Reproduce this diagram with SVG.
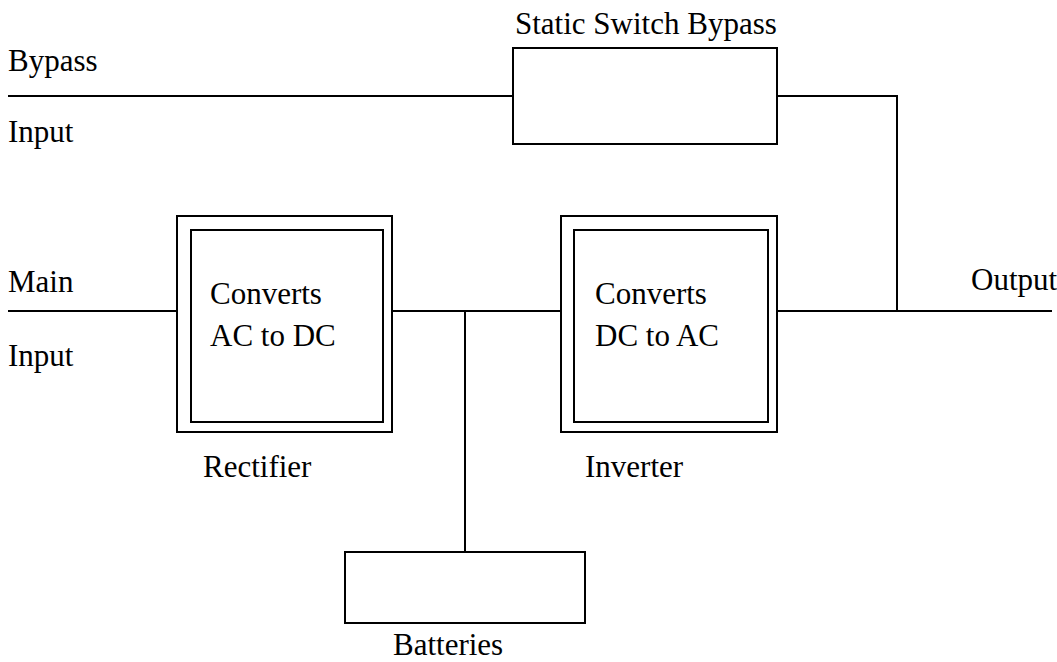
<svg xmlns="http://www.w3.org/2000/svg" width="1057" height="662" viewBox="0 0 1057 662">
<style>
  .box { fill: #fff; stroke: #000; stroke-width: 2; }
  .wire { fill: none; stroke: #000; stroke-width: 2; }
  text { font-family: "Liberation Serif", "Times New Roman", serif; font-size: 31px; fill: #000; }
</style>
<rect width="1057" height="662" fill="#fff"/>
<g id="connectors">
  <path class="wire" d="M8 96 H513"/>
  <path class="wire" d="M777 96 H897 V311"/>
  <path class="wire" d="M8 311 H177"/>
  <path class="wire" d="M392 311 H561"/>
  <path class="wire" d="M777 311 H1052"/>
  <path class="wire" d="M465 311 V552"/>
</g>
<g id="labels">
  <text x="8" y="71">Bypass</text>
  <text x="8" y="142">Input</text>
  <text x="8" y="292">Main</text>
  <text x="8" y="366">Input</text>
  <text x="971" y="290">Output</text>
</g>
<g id="static-switch">
  <rect class="box" x="513" y="48" width="264" height="96"/>
  <text x="515" y="34">Static Switch Bypass</text>
</g>
<g id="rectifier">
  <rect class="box" x="177" y="216" width="215" height="216"/>
  <rect class="box" x="191" y="230" width="192" height="192"/>
  <text x="210" y="304">Converts</text>
  <text x="210" y="346">AC to DC</text>
  <text x="203" y="477">Rectifier</text>
</g>
<g id="inverter">
  <rect class="box" x="561" y="216" width="216" height="216"/>
  <rect class="box" x="574" y="230" width="194" height="192"/>
  <text x="595" y="304">Converts</text>
  <text x="595" y="346">DC to AC</text>
  <text x="585" y="477">Inverter</text>
</g>
<g id="batteries">
  <rect class="box" x="345" y="552" width="240" height="71"/>
  <text x="393" y="655">Batteries</text>
</g>
</svg>
